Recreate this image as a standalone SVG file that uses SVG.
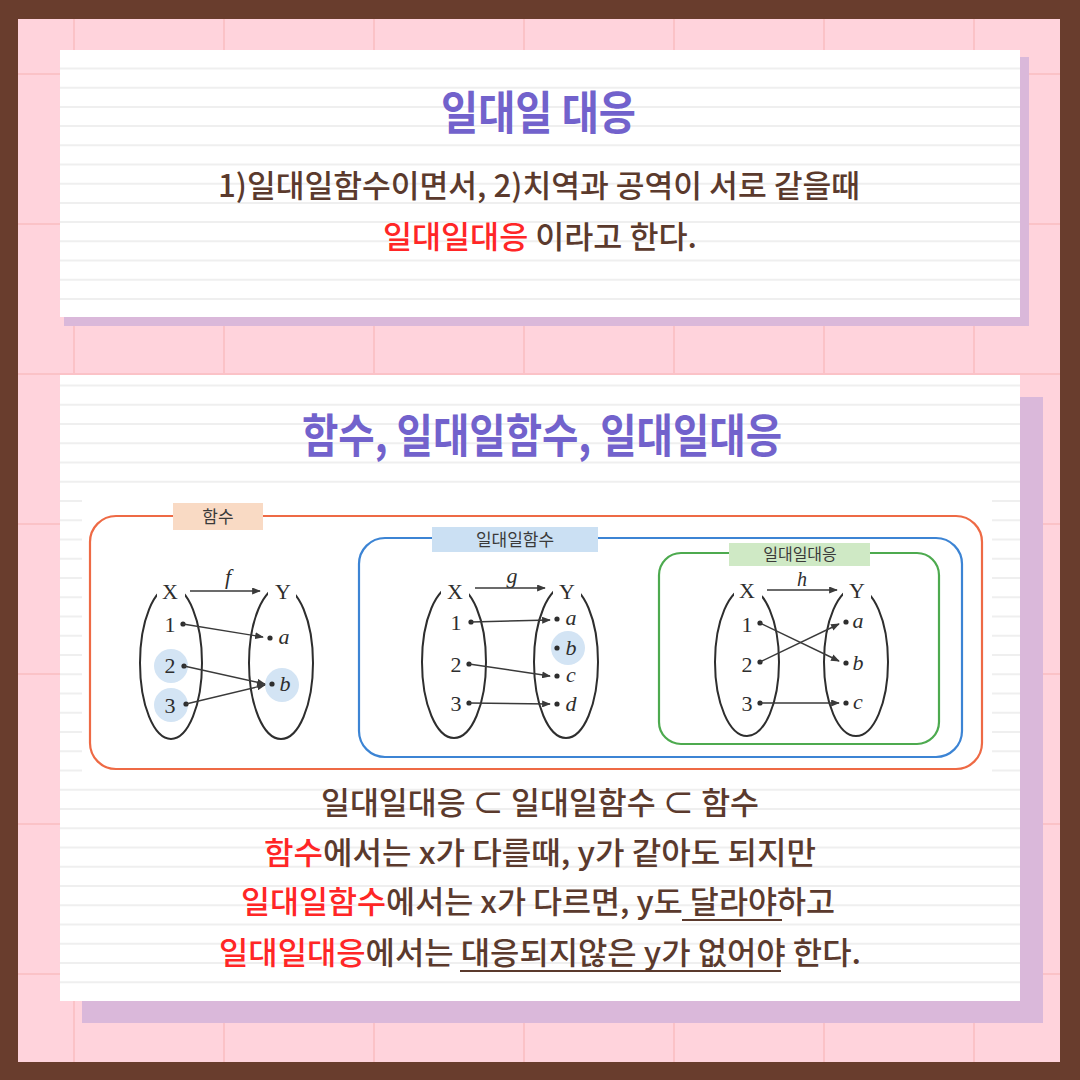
<svg xmlns="http://www.w3.org/2000/svg" width="1080" height="1080" viewBox="0 0 1080 1080">
<defs>
<style>
.kr{font-family:"Noto Sans CJK KR","Noto Sans",sans-serif}
.title{font-size:46px;font-weight:700;fill:#7262CC}
.body{font-size:31px;font-weight:500;fill:#5B3A2D}
.red{fill:#FF2626}
.grid{stroke:#FBC2C7;stroke-width:2}
.rule{stroke:#EFEFEF;stroke-width:2}
.lab{font-family:"Noto Sans CJK KR","Noto Sans",sans-serif;font-size:17px;fill:#3A3A3A;text-anchor:middle}
.ser{font-family:"Liberation Serif","DejaVu Serif",serif;font-size:22px;fill:#2E2E2E;text-anchor:middle}
.it{font-style:italic}
.ell{fill:none;stroke:#2E2E2E;stroke-width:2}
.dot{fill:#2E2E2E}
.hl{fill:#D3E4F4}
.arr{stroke:#3A3A3A;stroke-width:1.4;fill:none;marker-end:url(#ah)}
.ul{stroke:#5B3A2D;stroke-width:2}
.mask{fill:#FFFFFF}
</style>
<marker id="ah" viewBox="0 0 10 8" refX="9" refY="4" markerWidth="9" markerHeight="7" markerUnits="userSpaceOnUse" orient="auto">
<path d="M0,0 L10,4 L0,8 z" fill="#3A3A3A"/>
</marker>
</defs>

<!-- background frame -->
<rect x="0" y="0" width="1080" height="1080" fill="#693D2D"/>
<rect x="18" y="19" width="1042" height="1043" fill="#FFD3DC"/>
<g id="grid">
<line class="grid" x1="74" y1="19" x2="74" y2="1062"/>
<line class="grid" x1="224" y1="19" x2="224" y2="1062"/>
<line class="grid" x1="374" y1="19" x2="374" y2="1062"/>
<line class="grid" x1="524" y1="19" x2="524" y2="1062"/>
<line class="grid" x1="674" y1="19" x2="674" y2="1062"/>
<line class="grid" x1="824" y1="19" x2="824" y2="1062"/>
<line class="grid" x1="974" y1="19" x2="974" y2="1062"/>
<line class="grid" x1="18" y1="74" x2="1060" y2="74"/>
<line class="grid" x1="18" y1="224" x2="1060" y2="224"/>
<line class="grid" x1="18" y1="374" x2="1060" y2="374"/>
<line class="grid" x1="18" y1="524" x2="1060" y2="524"/>
<line class="grid" x1="18" y1="674" x2="1060" y2="674"/>
<line class="grid" x1="18" y1="824" x2="1060" y2="824"/>
<line class="grid" x1="18" y1="974" x2="1060" y2="974"/>
</g>

<!-- card 1 -->
<g id="card1">
<rect x="64" y="57" width="965" height="269" fill="#DAB8DA"/>
<rect x="60" y="50" width="960" height="267" fill="#FFFFFF"/>
<g>
<line class="rule" x1="60" y1="68.5" x2="1020" y2="68.5"/>
<line class="rule" x1="60" y1="87.7" x2="1020" y2="87.7"/>
<line class="rule" x1="60" y1="106.9" x2="1020" y2="106.9"/>
<line class="rule" x1="60" y1="126.1" x2="1020" y2="126.1"/>
<line class="rule" x1="60" y1="145.3" x2="1020" y2="145.3"/>
<line class="rule" x1="60" y1="164.5" x2="1020" y2="164.5"/>
<line class="rule" x1="60" y1="183.7" x2="1020" y2="183.7"/>
<line class="rule" x1="60" y1="202.9" x2="1020" y2="202.9"/>
<line class="rule" x1="60" y1="222.1" x2="1020" y2="222.1"/>
<line class="rule" x1="60" y1="241.3" x2="1020" y2="241.3"/>
<line class="rule" x1="60" y1="260.5" x2="1020" y2="260.5"/>
<line class="rule" x1="60" y1="279.7" x2="1020" y2="279.7"/>
<line class="rule" x1="60" y1="298.9" x2="1020" y2="298.9"/>
</g>
<text class="kr title" x="441" y="129" textLength="195" lengthAdjust="spacingAndGlyphs">일대일 대응</text>
<text class="kr body" x="218" y="197" textLength="642" lengthAdjust="spacingAndGlyphs">1)일대일함수이면서, 2)치역과 공역이 서로 같을때</text>
<text class="kr body" x="383" y="248" textLength="314" lengthAdjust="spacingAndGlyphs"><tspan class="red">일대일대응</tspan> 이라고 한다.</text>
</g>

<!-- card 2 -->
<g id="card2">
<rect x="82" y="397" width="961" height="626" fill="#DAB8DA"/>
<rect x="60" y="375" width="960" height="626" fill="#FFFFFF"/>
<g>
<line class="rule" x1="60" y1="385.5" x2="1020" y2="385.5"/>
<line class="rule" x1="60" y1="404.8" x2="1020" y2="404.8"/>
<line class="rule" x1="60" y1="424" x2="1020" y2="424"/>
<line class="rule" x1="60" y1="443.3" x2="1020" y2="443.3"/>
<line class="rule" x1="60" y1="462.5" x2="1020" y2="462.5"/>
<line class="rule" x1="60" y1="481.8" x2="1020" y2="481.8"/>
<line class="rule" x1="60" y1="501" x2="1020" y2="501"/>
<line class="rule" x1="60" y1="520.3" x2="1020" y2="520.3"/>
<line class="rule" x1="60" y1="539.5" x2="1020" y2="539.5"/>
<line class="rule" x1="60" y1="558.8" x2="1020" y2="558.8"/>
<line class="rule" x1="60" y1="578" x2="1020" y2="578"/>
<line class="rule" x1="60" y1="597.3" x2="1020" y2="597.3"/>
<line class="rule" x1="60" y1="616.5" x2="1020" y2="616.5"/>
<line class="rule" x1="60" y1="635.8" x2="1020" y2="635.8"/>
<line class="rule" x1="60" y1="655" x2="1020" y2="655"/>
<line class="rule" x1="60" y1="674.3" x2="1020" y2="674.3"/>
<line class="rule" x1="60" y1="693.5" x2="1020" y2="693.5"/>
<line class="rule" x1="60" y1="712.8" x2="1020" y2="712.8"/>
<line class="rule" x1="60" y1="732" x2="1020" y2="732"/>
<line class="rule" x1="60" y1="751.3" x2="1020" y2="751.3"/>
<line class="rule" x1="60" y1="770.5" x2="1020" y2="770.5"/>
<line class="rule" x1="60" y1="789.8" x2="1020" y2="789.8"/>
<line class="rule" x1="60" y1="809" x2="1020" y2="809"/>
<line class="rule" x1="60" y1="828.3" x2="1020" y2="828.3"/>
<line class="rule" x1="60" y1="847.5" x2="1020" y2="847.5"/>
<line class="rule" x1="60" y1="866.8" x2="1020" y2="866.8"/>
<line class="rule" x1="60" y1="886" x2="1020" y2="886"/>
<line class="rule" x1="60" y1="905.3" x2="1020" y2="905.3"/>
<line class="rule" x1="60" y1="924.5" x2="1020" y2="924.5"/>
<line class="rule" x1="60" y1="943.8" x2="1020" y2="943.8"/>
<line class="rule" x1="60" y1="963" x2="1020" y2="963"/>
<line class="rule" x1="60" y1="982.3" x2="1020" y2="982.3"/>
</g>
<text class="kr title" x="302" y="452" textLength="480" lengthAdjust="spacingAndGlyphs">함수, 일대일함수, 일대일대응</text>
</g>

<!-- figure -->
<g id="figure">
<rect x="82" y="497" width="910" height="284" fill="#FFFFFF"/>

<g id="set-func">
<rect x="90" y="516" width="892" height="253" rx="26" fill="none" stroke="#EE6A45" stroke-width="2.2"/>
<rect x="173" y="503" width="90" height="27" fill="#F9DAC4"/>
<text class="lab" x="218" y="523">함수</text>
</g>
<g id="set-inj">
<rect x="359" y="538" width="603" height="219" rx="26" fill="none" stroke="#3C84D4" stroke-width="2.2"/>
<rect x="432" y="527" width="166" height="25" fill="#CBE0F3"/>
<text class="lab" x="515" y="546">일대일함수</text>
</g>
<g id="set-bij">
<rect x="659" y="553" width="280" height="191" rx="22" fill="none" stroke="#4DAA4F" stroke-width="2.2"/>
<rect x="729" y="543" width="141" height="23" fill="#CFE9C5"/>
<text class="lab" x="800" y="560" style="font-size:16px">일대일대응</text>
</g>

<!-- diagram f -->
<g id="diag-f">
<circle class="hl" cx="171" cy="666" r="17"/>
<circle class="hl" cx="171" cy="705" r="17"/>
<circle class="hl" cx="282" cy="685" r="17"/>
<ellipse class="ell" cx="171" cy="663" rx="31" ry="76"/>
<ellipse class="ell" cx="281" cy="663" rx="32" ry="76"/>
<rect class="mask" x="157" y="577" width="28" height="25"/>
<rect class="mask" x="268" y="577" width="28" height="25"/>
<text class="ser" x="170" y="599">X</text>
<text class="ser" x="283" y="599">Y</text>
<text class="ser it" x="228" y="584">f</text>
<text class="ser" x="170" y="632">1</text>
<text class="ser" x="170" y="673">2</text>
<text class="ser" x="170" y="713">3</text>
<circle class="dot" cx="183" cy="624" r="2.6"/>
<circle class="dot" cx="184" cy="666" r="2.6"/>
<circle class="dot" cx="186" cy="704" r="2.6"/>
<circle class="dot" cx="270" cy="638" r="2.6"/>
<circle class="dot" cx="272" cy="684" r="2.6"/>
<text class="ser it" x="284" y="644">a</text>
<text class="ser it" x="285" y="691">b</text>
</g>

<!-- diagram g -->
<g id="diag-g">
<circle class="hl" cx="568" cy="648" r="17"/>
<ellipse class="ell" cx="454" cy="662" rx="32" ry="76"/>
<ellipse class="ell" cx="566" cy="662" rx="32" ry="76"/>
<rect class="mask" x="441" y="577" width="28" height="25"/>
<rect class="mask" x="553" y="577" width="28" height="25"/>
<text class="ser" x="455" y="599">X</text>
<text class="ser" x="567" y="599">Y</text>
<text class="ser it" x="512" y="583">g</text>
<text class="ser" x="456" y="630">1</text>
<text class="ser" x="456" y="672">2</text>
<text class="ser" x="456" y="711">3</text>
<circle class="dot" cx="471" cy="622" r="2.6"/>
<circle class="dot" cx="469" cy="664" r="2.6"/>
<circle class="dot" cx="469" cy="703" r="2.6"/>
<circle class="dot" cx="557" cy="619" r="2.6"/>
<circle class="dot" cx="557" cy="648" r="2.6"/>
<circle class="dot" cx="557" cy="676" r="2.6"/>
<circle class="dot" cx="557" cy="704" r="2.6"/>
<text class="ser it" x="571" y="625">a</text>
<text class="ser it" x="571" y="655">b</text>
<text class="ser it" x="571" y="682">c</text>
<text class="ser it" x="571" y="711">d</text>
</g>

<!-- diagram h -->
<g id="diag-h">
<ellipse class="ell" cx="747" cy="662" rx="32" ry="74"/>
<ellipse class="ell" cx="856" cy="662" rx="32" ry="74"/>
<rect class="mask" x="734" y="577" width="28" height="25"/>
<rect class="mask" x="843" y="577" width="28" height="25"/>
<text class="ser" x="747" y="598">X</text>
<text class="ser" x="857" y="598">Y</text>
<text class="ser it" x="802" y="586" style="font-size:20px">h</text>
<text class="ser" x="747" y="632">1</text>
<text class="ser" x="747" y="672">2</text>
<text class="ser" x="747" y="711">3</text>
<circle class="dot" cx="760" cy="623" r="2.6"/>
<circle class="dot" cx="760" cy="662" r="2.6"/>
<circle class="dot" cx="760" cy="703" r="2.6"/>
<circle class="dot" cx="846" cy="622" r="2.6"/>
<circle class="dot" cx="846" cy="663" r="2.6"/>
<circle class="dot" cx="846" cy="703" r="2.6"/>
<text class="ser it" x="858" y="628">a</text>
<text class="ser it" x="858" y="670">b</text>
<text class="ser it" x="858" y="709">c</text>
</g>

<g id="connectors">
<line class="arr" x1="190" y1="591" x2="260" y2="591"/>
<line class="arr" x1="183" y1="624" x2="263" y2="637"/>
<line class="arr" x1="184" y1="666" x2="265" y2="684"/>
<line class="arr" x1="186" y1="704" x2="265" y2="685"/>
<line class="arr" x1="475" y1="588" x2="545" y2="588"/>
<line class="arr" x1="471" y1="622" x2="550" y2="620"/>
<line class="arr" x1="469" y1="664" x2="550" y2="676"/>
<line class="arr" x1="469" y1="703" x2="550" y2="704"/>
<line class="arr" x1="767" y1="590" x2="837" y2="590"/>
<line class="arr" x1="760" y1="623" x2="839" y2="661"/>
<line class="arr" x1="760" y1="662" x2="839" y2="624"/>
<line class="arr" x1="760" y1="703" x2="839" y2="703"/>
</g>
</g>

<!-- bottom text -->
<g id="notes">
<text class="kr body" x="321" y="814" textLength="438" lengthAdjust="spacingAndGlyphs">일대일대응 ⊂ 일대일함수 ⊂ 함수</text>
<text class="kr body" x="264" y="864" textLength="552" lengthAdjust="spacingAndGlyphs"><tspan class="red">함수</tspan>에서는 x가 다를때, y가 같아도 되지만</text>
<text class="kr body" x="241" y="913" textLength="594" lengthAdjust="spacingAndGlyphs"><tspan class="red">일대일함수</tspan>에서는 x가 다르면, y도 달라야하고</text>
<line class="ul" x1="682" y1="920" x2="782" y2="920"/>
<text class="kr body" x="219" y="964" textLength="642" lengthAdjust="spacingAndGlyphs"><tspan class="red">일대일대응</tspan>에서는 대응되지않은 y가 없어야 한다.</text>
<line class="ul" x1="460" y1="971" x2="781" y2="971"/>
</g>
</svg>
